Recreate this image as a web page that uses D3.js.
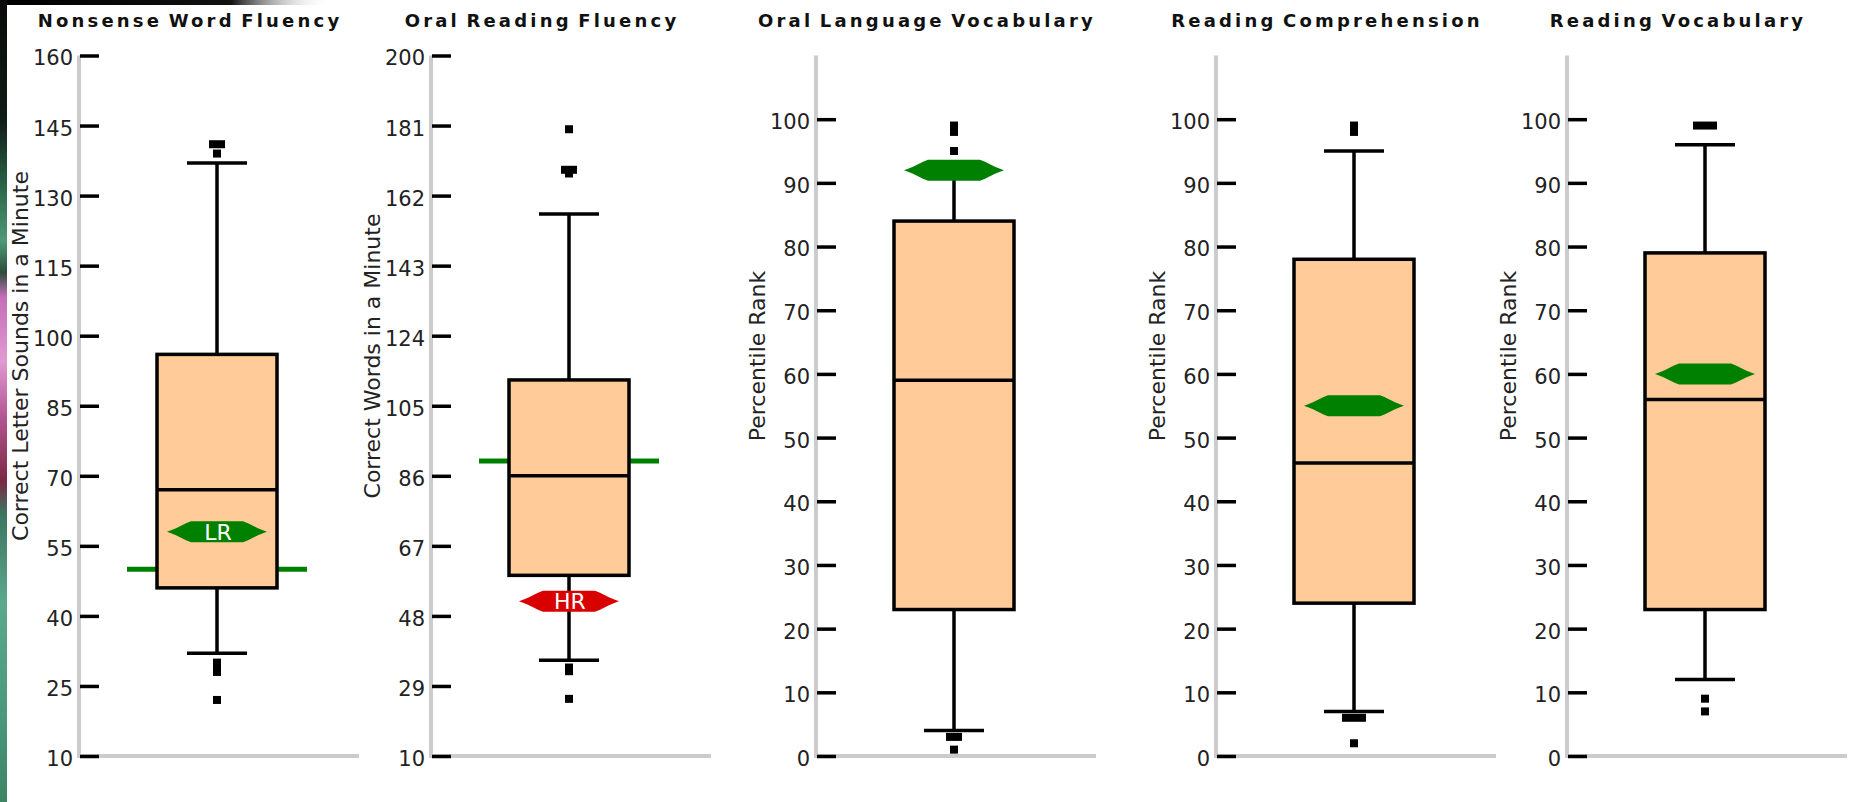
<!DOCTYPE html>
<html>
<head>
<meta charset="utf-8">
<script src="https://cdn.jsdelivr.net/npm/d3@7"></script>
<style>
  html, body { margin: 0; padding: 0; background: #fff; }
  svg { display: block; }
</style>
</head>
<body>
<svg id="chart" width="1852" height="802"></svg>
<script>
// ---------------- DATA ----------------
const titles = ["Nonsense Word Fluency", "Oral Reading Fluency", "Oral Language Vocabulary", "Reading Comprehension", "Reading Vocabulary"];
const yLabels = ["Correct Letter Sounds in a Minute", "Correct Words in a Minute", "Percentile Rank", "Percentile Rank", "Percentile Rank"];
const yMin = [10, 10, 0, 0, 0];
const yMax = [160, 200, 110, 110, 110];
const tickValues = [
  [10, 25, 40, 55, 70, 85, 100, 115, 130, 145, 160],
  [10, 29, 48, 67, 86, 105, 124, 143, 162, 181, 200],
  [0, 10, 20, 30, 40, 50, 60, 70, 80, 90, 100],
  [0, 10, 20, 30, 40, 50, 60, 70, 80, 90, 100],
  [0, 10, 20, 30, 40, 50, 60, 70, 80, 90, 100]
];
const whiskerLow  = [32, 36, 4, 7, 12];
const q1          = [46, 59, 23, 24, 23];
const median      = [67, 86, 59, 46, 56];
const q3          = [96, 112, 84, 78, 79];
const whiskerHigh = [137, 157, 93, 95, 96];
const outliers = [
  [141, 141, 139, 30, 29, 28, 22],
  [180, 169, 169, 168, 34, 33, 25.5],
  [99, 98, 95, 3, 3, 1],
  [99, 98, 6, 6, 6, 2],
  [99, 99, 99, 9, 7]
];
const targetLine = [50, 90, null, null, null];
const markerValue = [58, 52, 92, 55, 60];
const markerLabel = ["LR", "HR", "", "", ""];

// ---------------- LAYOUT / STYLE ----------------
const axisX = [79, 431, 816, 1216, 1567];
const Y0 = 756, Y1 = 55.5;
const boxOffset = 138, boxHalf = 60, capHalf = 30, targetHalf = 90;
const baseLen = 280;
const GREEN = "#008000", RED = "#d90000", BOX = "#ffcc99", GRAY = "#cccccc", INK = "#000";
const FONT = "'DejaVu Sans', Verdana, sans-serif";

const svg = d3.select("#chart");
const defs = svg.append("defs");

// background decoration (photo strip at the left edge)
const lg = defs.append("linearGradient").attr("id", "strip").attr("x1", 0).attr("y1", 0).attr("x2", 0).attr("y2", 1);
[[0, "#080b09"], [0.15, "#101c15"], [0.24, "#2f6a4e"], [0.3, "#4f9a78"], [0.34, "#2c4d3c"],
 [0.37, "#c56db6"], [0.45, "#e09ad2"], [0.52, "#b45592"], [0.6, "#7a2a44"], [0.64, "#3d7460"],
 [0.75, "#5aa98a"], [0.88, "#4c9a7c"], [1, "#3c8466"]].forEach(s =>
  lg.append("stop").attr("offset", s[0]).attr("stop-color", s[1]));
const tg = defs.append("linearGradient").attr("id", "topband").attr("x1", 0).attr("y1", 0).attr("x2", 1).attr("y2", 0);
[[0, "#000", 1], [0.7, "#111", 1], [1, "#fff", 0]].forEach(s =>
  tg.append("stop").attr("offset", s[0]).attr("stop-color", s[1]).attr("stop-opacity", s[2]));

svg.append("rect").attr("width", 1852).attr("height", 802).attr("fill", "#fff");
svg.append("rect").attr("x", 0).attr("y", 0).attr("width", 330).attr("height", 5).attr("fill", "url(#topband)");
svg.append("rect").attr("x", 0).attr("y", 0).attr("width", 7).attr("height", 802).attr("fill", "url(#strip)");

// marker shape (elongated lens)
const half = [[-50, 0], [-46, -1.5], [-41, -3.5], [-36, -6], [-31, -8.5], [-26, -10.5], [26, -10.5], [31, -8.5], [36, -6], [41, -3.5], [46, -1.5], [50, 0]];
const lensPts = half.concat(half.slice(1, -1).reverse().map(p => [p[0], -p[1]]));
const lensPath = "M" + lensPts.map(p => p.join(",")).join("L") + "Z";

titles.forEach((title, i) => {
  const ax = axisX[i];
  const cx = ax + boxOffset;
  const y = d3.scaleLinear().domain([yMin[i], yMax[i]]).range([Y0, Y1]);
  const g = svg.append("g");

  // title
  g.append("text")
    .attr("x", ax + 111).attr("y", 27)
    .attr("text-anchor", "middle")
    .style("font-family", FONT).style("font-weight", "bold").style("font-size", "18px")
    .style("letter-spacing", "3.2px").style("word-spacing", "-3px")
    .attr("fill", "#111")
    .text(title);

  // y label
  g.append("text")
    .attr("transform", `translate(${ax - 51},356) rotate(-90)`)
    .attr("text-anchor", "middle")
    .style("font-family", FONT).style("font-size", "22px")
    .attr("fill", "#222")
    .text(yLabels[i]);

  // gray axis lines
  g.append("line").attr("x1", ax).attr("x2", ax).attr("y1", y(yMax[i])).attr("y2", Y0 + 2)
    .attr("stroke", GRAY).attr("stroke-width", 4);
  g.append("line").attr("x1", ax).attr("x2", ax + baseLen).attr("y1", Y0).attr("y2", Y0)
    .attr("stroke", GRAY).attr("stroke-width", 4);

  // ticks + labels
  const axisG = g.append("g").attr("transform", `translate(${ax + 1},0)`)
    .call(d3.axisLeft(y).tickValues(tickValues[i]).tickSizeInner(-19).tickSizeOuter(0).tickPadding(7));
  axisG.select(".domain").remove();
  axisG.selectAll(".tick line").attr("stroke", INK).attr("stroke-width", 3.5);
  axisG.selectAll(".tick text")
    .attr("dy", "0.45em")
    .style("font-family", FONT).style("font-size", "21px")
    .attr("fill", "#222");

  // target line (behind box)
  if (targetLine[i] != null) {
    g.append("line").attr("x1", cx - targetHalf).attr("x2", cx + targetHalf)
      .attr("y1", y(targetLine[i])).attr("y2", y(targetLine[i]))
      .attr("stroke", GREEN).attr("stroke-width", 5);
  }

  // whiskers
  g.append("line").attr("x1", cx).attr("x2", cx).attr("y1", y(q3[i])).attr("y2", y(whiskerHigh[i]))
    .attr("stroke", INK).attr("stroke-width", 3.5);
  g.append("line").attr("x1", cx).attr("x2", cx).attr("y1", y(q1[i])).attr("y2", y(whiskerLow[i]))
    .attr("stroke", INK).attr("stroke-width", 3.5);
  [whiskerHigh[i], whiskerLow[i]].forEach(v => {
    g.append("line").attr("x1", cx - capHalf).attr("x2", cx + capHalf).attr("y1", y(v)).attr("y2", y(v))
      .attr("stroke", INK).attr("stroke-width", 3.5);
  });

  // box
  g.append("rect").attr("x", cx - boxHalf).attr("y", y(q3[i]))
    .attr("width", boxHalf * 2).attr("height", y(q1[i]) - y(q3[i]))
    .attr("fill", BOX).attr("stroke", INK).attr("stroke-width", 3.5);
  g.append("line").attr("x1", cx - boxHalf).attr("x2", cx + boxHalf)
    .attr("y1", y(median[i])).attr("y2", y(median[i]))
    .attr("stroke", INK).attr("stroke-width", 3.5);

  // outliers (duplicates spread side by side)
  const counts = d3.rollup(outliers[i], v => v.length, d => d);
  const seen = new Map();
  outliers[i].forEach(v => {
    const n = counts.get(v);
    const k = seen.get(v) || 0;
    seen.set(v, k + 1);
    const off = (k - (n - 1) / 2) * 8;
    g.append("rect").attr("x", cx + off - 4).attr("y", y(v) - 4)
      .attr("width", 8).attr("height", 8).attr("fill", INK);
  });

  // marker
  const mcol = markerLabel[i] === "HR" ? RED : GREEN;
  const mg = g.append("g").attr("transform", `translate(${cx},${y(markerValue[i])})`);
  mg.append("path").attr("d", lensPath).attr("fill", mcol);
  if (markerLabel[i]) {
    mg.append("text").attr("x", 1).attr("y", 8).attr("text-anchor", "middle")
      .style("font-family", FONT).style("font-size", "22px")
      .attr("fill", "#fff").text(markerLabel[i]);
  }
});
</script>
</body>
</html>
